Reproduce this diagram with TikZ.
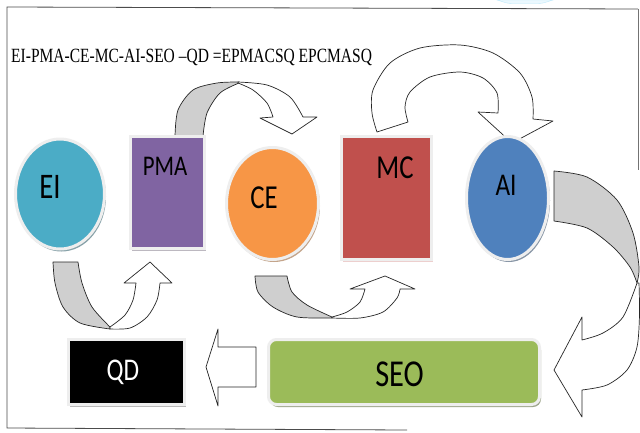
\documentclass[tikz,border=0pt]{standalone}
\usepackage{fontspec}
\usepackage{graphicx}
\usetikzlibrary{shapes.geometric,shadows}
\setmainfont{Liberation Serif}
\newfontfamily\labfont{Carlito}
\definecolor{cEI}{HTML}{4BACC6}
\definecolor{cPMA}{HTML}{8064A2}
\definecolor{cCE}{HTML}{F79646}
\definecolor{cMC}{HTML}{C0504D}
\definecolor{cAI}{HTML}{4F81BD}
\definecolor{cSEO}{HTML}{9BBB59}
\definecolor{bandgray}{HTML}{CFCFCF}
\definecolor{rimcol}{HTML}{EEEEEE}
\newcommand{\lbltext}[2]{\labfont\fontsize{#1}{#1}\selectfont\scalebox{0.8}[1]{#2}}
\begin{document}
\begin{tikzpicture}[x=1pt,y=-1pt,
  blockshape/.style={draw=rimcol, line width=3pt, inner sep=0pt},
  shade/.style={drop shadow={shadow xshift=1.5pt, shadow yshift=-2.5pt, fill=#1, opacity=0.55}},
  arrowline/.style={draw=black!85, line width=0.7pt, line join=round},
  lbl/.style={anchor=base, inner sep=0pt},
  framecol/.style={draw=black!70, line width=0.8pt}]
\fill[white] (0,0) rectangle (640,432);
\useasboundingbox (0,0) rectangle (640,432);

% light blue blob at the top edge
\filldraw[fill=cyan!8, draw=cyan!25] (497,0) to[out=-15,in=180] (512,3.5) -- (538,3.5) to[out=0,in=-165] (553,0) -- cycle;

% frame
\draw[framecol] (638,9) -- (7,7) -- (7,428) -- (407,430);
\draw[draw=black!55, line width=0.7pt] (638,9) -- (638,170);

% title
\node[anchor=base west, inner sep=0pt] (title) at (11,62.7)
  {\scalebox{0.768}[1]{\fontsize{20.2}{20.2}\selectfont EI-PMA-CE-MC-AI-SEO \textendash QD =EPMACSQ EPCMASQ}};

% ---- block arrows ----
% PMA -> CE (over the top)
\draw[arrowline, fill=bandgray] plot[smooth] coordinates {(175,136) (178,110) (193,90) (217,83) (239,82)}
  -- plot[smooth] coordinates {(239,83) (220,93) (207,113) (203,136)} -- cycle;
\draw[arrowline, fill=white] plot[smooth] coordinates {(238,82) (267,85) (290,97) (303,117)}
  -- (317,117) -- (292,134) -- (260,118) -- (273,117)
  -- plot[smooth] coordinates {(273,117) (267,103) (253,90) (238,83)} -- cycle;

% MC -> AI (big loop)
\draw[arrowline, fill=white] plot[smooth] coordinates {(377,132) (372,113) (373,90) (390,63) (420,48) (460,45) (493,53) (520,73) (532,97) (533,119)}
  -- (553,121) -- (512,143) -- (478,112) -- (498,113)
  -- plot[smooth] coordinates {(498,113) (497,93) (483,78) (460,72) (430,77) (410,92) (405,107) (408,122)} -- cycle;

% EI -> PMA (under)
\draw[arrowline, fill=bandgray] plot[smooth] coordinates {(53,262) (55,283) (63,307) (80,323) (110,329)}
  -- plot[smooth] coordinates {(110,327) (92,307) (82,283) (78,262)} -- cycle;
\draw[arrowline, fill=white] plot[smooth] coordinates {(110,329) (130,328) (147,317) (157,300) (160,283)}
  -- (172,283) -- (150,262) -- (124,283) -- (136,283)
  -- plot[smooth] coordinates {(136,283) (133,300) (125,315) (110,327)} -- cycle;

% CE -> MC (under)
\draw[arrowline, fill=bandgray] plot[smooth] coordinates {(255,276) (258,292) (273,307) (297,317) (332,318)}
  -- plot[smooth] coordinates {(332,317) (307,305) (292,292) (287,276)} -- cycle;
\draw[arrowline, fill=white] plot[smooth] coordinates {(332,318) (360,318) (383,312) (397,298) (400,289)}
  -- (415,289) -- (385,276) -- (350,289) -- (365,289)
  -- plot[smooth] coordinates {(365,289) (360,302) (347,312) (332,317)} -- cycle;

% AI -> SEO (right side)
\draw[arrowline, fill=bandgray] (554,171) -- (554,221)
  -- plot[smooth] coordinates {(554,221) (587,228) (613,247) (630,267) (637,283)}
  -- plot[smooth] coordinates {(637,283) (639,267) (633,233) (617,200) (587,177) (554,171)} -- cycle;
\draw[arrowline, fill=white] plot[smooth] coordinates {(637,283) (623,317) (603,333) (582,340)}
  -- (582,317) -- (554,370) -- (582,417) -- (582,390)
  -- plot[smooth] coordinates {(582,390) (607,385) (627,370) (637,347) (639.5,315) (639,283)} -- cycle;

% SEO -> QD (straight, leftwards)
\draw[arrowline, fill=white] (256,347) -- (256,387) -- (218,387) -- (218,406) -- (206,367) -- (218,329) -- (218,347) -- cycle;

% ---- shapes ----
\node[blockshape, ellipse, fill=cEI, shade=cEI!50!black, minimum width=89pt, minimum height=110pt] (EI) at (60,194) {};
\node[blockshape, rectangle, fill=cPMA, shade=cPMA!40!black!60, minimum width=74pt, minimum height=112pt] (PMA) at (167.5,192.5) {};
\node[blockshape, ellipse, fill=cCE, shade=cCE!60!black, minimum width=92pt, minimum height=112pt] (CE) at (272.5,203.5) {};
\node[blockshape, rectangle, fill=cMC, shade=cMC!50!white, minimum width=90pt, minimum height=123pt] (MC) at (386.5,198) {};
\node[blockshape, ellipse, fill=cAI, shade=cAI!50!black, minimum width=82pt, minimum height=123pt] (AI) at (507.5,198) {};
\node[blockshape, rectangle, fill=black, shade=black!50, minimum width=116pt, minimum height=65pt] (QD) at (126.5,372) {};
\node[blockshape, rectangle, rounded corners=8pt, fill=cSEO, shade=cSEO!50!black, minimum width=271pt, minimum height=65pt] (SEO) at (404,372) {};

% ---- labels ----
\node[lbl] (lEI) at (50,198.5) {\lbltext{36}{EI}};
\node[lbl] (lPMA) at (165,175) {\lbltext{28.5}{PMA}};
\node[lbl] (lCE) at (264,208) {\lbltext{33.5}{CE}};
\node[lbl] (lMC) at (395,178) {\lbltext{33.5}{MC}};
\node[lbl] (lAI) at (506,195) {\lbltext{31.6}{AI}};
\node[lbl, text=white] (lQD) at (123,380) {\lbltext{31.6}{QD}};
\node[lbl] (lSEO) at (399.5,386) {\lbltext{38}{SEO}};
\end{tikzpicture}
\end{document}
